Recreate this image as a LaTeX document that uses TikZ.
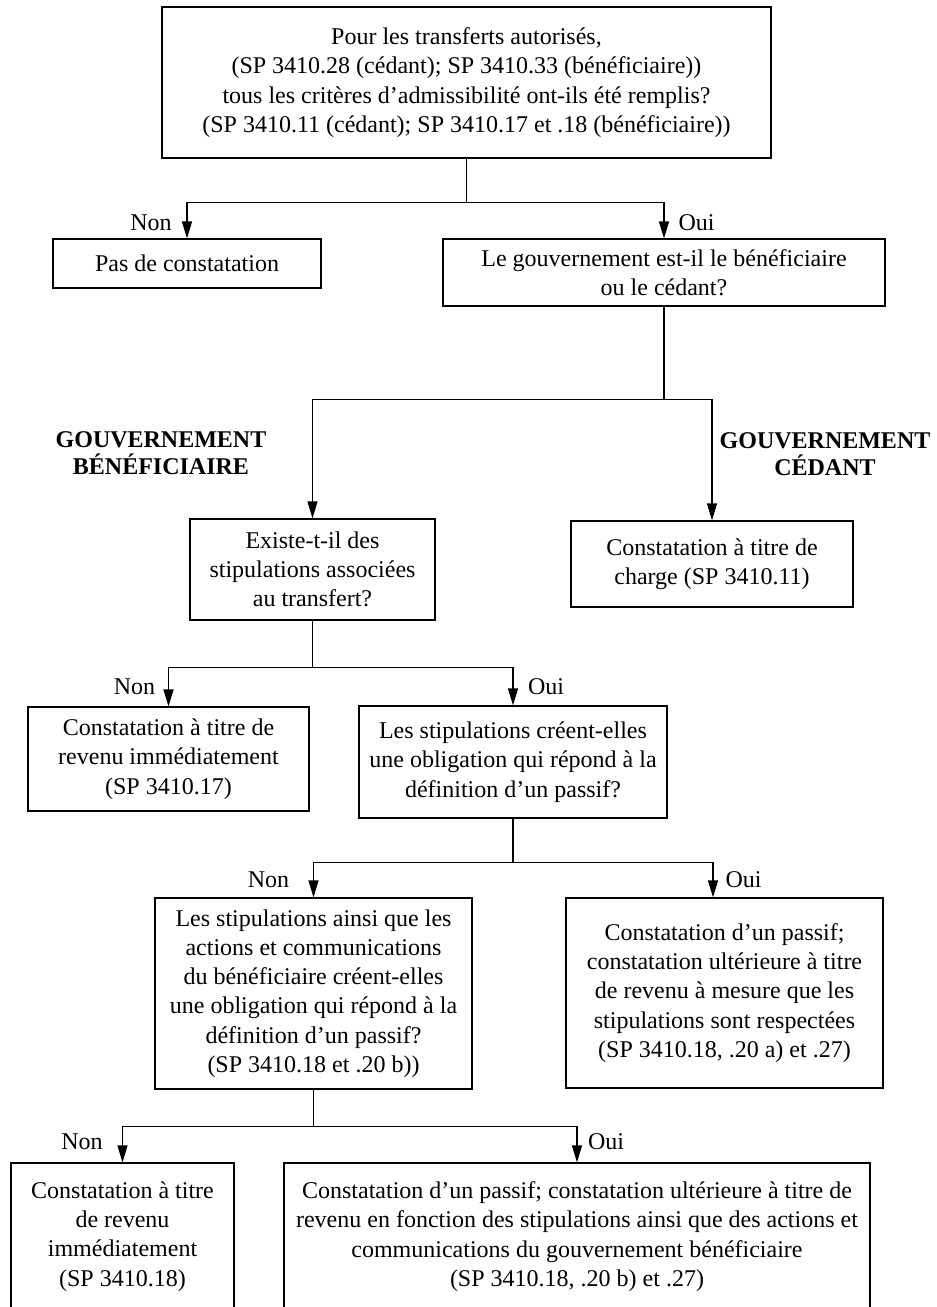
\documentclass[tikz,border=0pt]{standalone}
\usepackage{fontspec}
\setmainfont{Liberation Serif}
\usetikzlibrary{arrows.meta}
\begin{document}
\begin{tikzpicture}[x=1pt,y=-1pt,
  every node/.style={font=\fontsize{24}{29.3}\selectfont},
  box/.style={draw, line width=1.2pt, align=center, inner sep=0pt},
  ln/.style={line width=1.2pt},
  arr/.style={line width=1.2pt, -{Triangle[width=10pt,length=17pt]}},
  lbl/.style={inner sep=0pt},
  side/.style={align=center, inner sep=0pt, font=\fontsize{24}{27}\selectfont\bfseries}]
\useasboundingbox (0,0) rectangle (937,1307);

\node[box, minimum width=609pt, minimum height=151pt] (top) at (466.5,82.5)
  {Pour les transferts autorisés,\\(SP 3410.28 (cédant); SP 3410.33 (bénéficiaire))\\tous les critères d’admissibilité ont-ils été remplis?\\(SP 3410.11 (cédant); SP 3410.17 et .18 (bénéficiaire))};
\node[box, minimum width=268pt, minimum height=49pt] (pas) at (187,263.5) {Pas de constatation};
\node[box, minimum width=442pt, minimum height=67pt] (gouv) at (664,272.5)
  {Le gouvernement est-il le bénéficiaire\\ou le cédant?};
\node[box, minimum width=245pt, minimum height=101pt] (existe) at (312.5,569.5)
  {Existe-t-il des\\stipulations associées\\au transfert?};
\node[box, minimum width=282pt, minimum height=86pt] (charge) at (712,564)
  {Constatation à titre de\\charge (SP 3410.11)};
\node[box, minimum width=281pt, minimum height=104pt] (rev1) at (168.5,759)
  {Constatation à titre de\\revenu immédiatement\\(SP 3410.17)};
\node[box, minimum width=308pt, minimum height=112pt] (stip1) at (513,762)
  {Les stipulations créent-elles\\une obligation qui répond à la\\définition d’un passif?};
\node[box, minimum width=317pt, minimum height=191pt] (stip2) at (313.5,993.5)
  {Les stipulations ainsi que les\\actions et communications\\du bénéficiaire créent-elles\\une obligation qui répond à la\\définition d’un passif?\\(SP 3410.18 et .20 b))};
\node[box, minimum width=317pt, minimum height=190pt] (pas1) at (724.5,993)
  {Constatation d’un passif;\\constatation ultérieure à titre\\de revenu à mesure que les\\stipulations sont respectées\\(SP 3410.18, .20 a) et .27)};
\node[box, minimum width=223pt, minimum height=147pt] (rev2) at (122.5,1236.5)
  {Constatation à titre\\de revenu\\immédiatement\\(SP 3410.18)};
\node[box, minimum width=586pt, minimum height=147pt] (pas2) at (577,1236.5)
  {Constatation d’un passif; constatation ultérieure à titre de\\revenu en fonction des stipulations ainsi que des actions et\\communications du gouvernement bénéficiaire\\(SP 3410.18, .20 b) et .27)};

\node[side] (gb) at (161,453.5) {GOUVERNEMENT\\BÉNÉFICIAIRE};
\node[side] (gc) at (825,454) {GOUVERNEMENT\\CÉDANT};

\draw[ln] (top.south) -- ++(0,44) coordinate (j1);
\draw[arr] (j1) -| (pas.north);
\draw[arr] (j1) -| (gouv.north);
\draw[ln] (gouv.south) -- ++(0,93) coordinate (j2);
\draw[arr] (j2) -| (existe.north);
\draw[arr] (j2) -| (charge.north);
\draw[ln] (existe.south) -- ++(0,47) coordinate (j3);
\draw[arr] (j3) -| (rev1.north);
\draw[arr] (j3) -| (stip1.north);
\draw[ln] (stip1.south) -- ++(0,44) coordinate (j4);
\draw[arr] (j4) -| (stip2.north);
\draw[arr] (j4) -| ([xshift=-11.5pt]pas1.north);
\draw[ln] (stip2.south) -- ++(0,37) coordinate (j5);
\draw[arr] (j5) -| (rev2.north);
\draw[arr] (j5) -| (pas2.north);

\node[lbl] (n1) at (151,223) {Non};
\node[lbl] (o1) at (696.5,223) {Oui};
\node[lbl] (n2) at (134.5,687) {Non};
\node[lbl] (o2) at (546,687) {Oui};
\node[lbl] (n3) at (268.5,880) {Non};
\node[lbl] (o3) at (743.5,880) {Oui};
\node[lbl] (n4) at (82,1142) {Non};
\node[lbl] (o4) at (606,1142) {Oui};
\end{tikzpicture}
\end{document}
